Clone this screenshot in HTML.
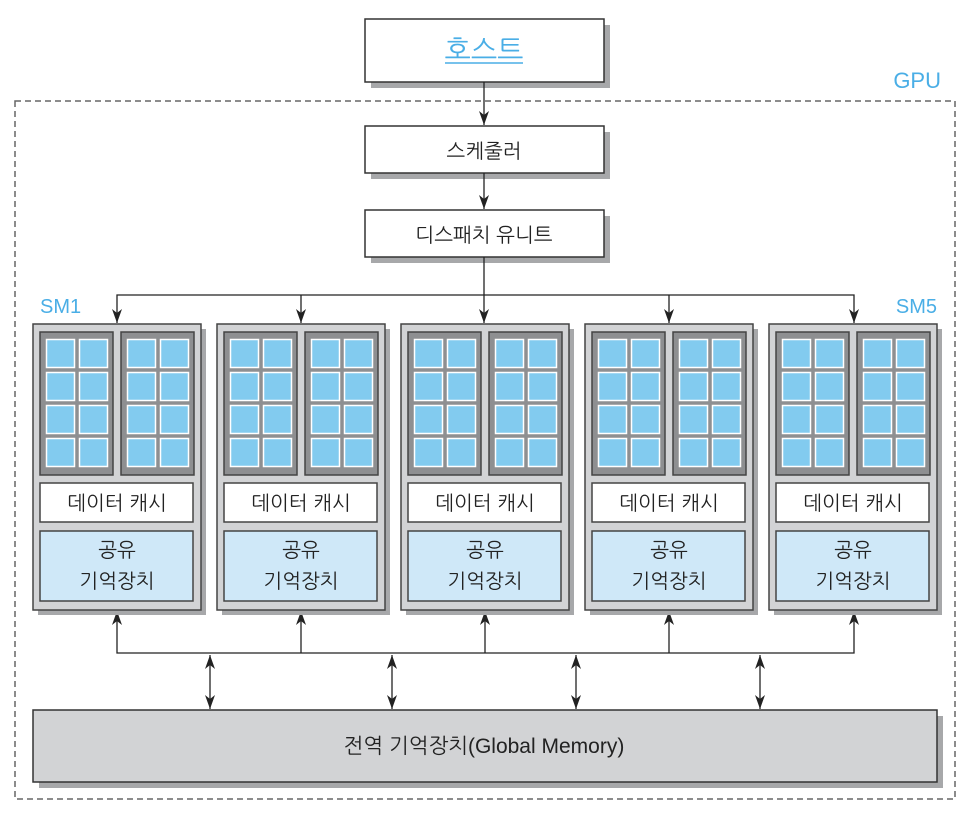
<!DOCTYPE html>
<html><head><meta charset="utf-8"><style>
html,body{margin:0;padding:0;background:#fff;width:980px;height:824px;overflow:hidden}
text{font-family:"Liberation Sans","NanumGothic","Noto Sans CJK KR",sans-serif}
</style></head><body>
<svg width="980" height="824" viewBox="0 0 980 824" xmlns="http://www.w3.org/2000/svg">
<defs>
<marker id="ah" viewBox="0 0 14 10" refX="14" refY="5" markerWidth="14" markerHeight="10" orient="auto-start-reverse" markerUnits="userSpaceOnUse">
<path d="M0,0 L14,5 L0,10 L4,5 z" fill="#222"/></marker>
<g id="blk">
<rect x="0" y="0" width="73" height="143" fill="#8e8f91" stroke="#444" stroke-width="1.5"/>
<g fill="#82cbef" stroke="#fff" stroke-width="1.5">
<rect x="6.5" y="7.5" width="28" height="28"/><rect x="39.5" y="7.5" width="28" height="28"/>
<rect x="6.5" y="40.5" width="28" height="28"/><rect x="39.5" y="40.5" width="28" height="28"/>
<rect x="6.5" y="73.5" width="28" height="28"/><rect x="39.5" y="73.5" width="28" height="28"/>
<rect x="6.5" y="106.5" width="28" height="28"/><rect x="39.5" y="106.5" width="28" height="28"/>
</g></g>
<g id="sm">
<rect x="5" y="5" width="168" height="286" fill="#a7a8aa"/>
<rect x="0" y="0" width="168" height="286" fill="#d2d3d5" stroke="#444" stroke-width="1.5"/>
<use href="#blk" x="7" y="8"/><use href="#blk" x="88" y="8"/>
<rect x="7" y="159" width="153" height="39" fill="#fff" stroke="#444" stroke-width="1.5"/>
<rect x="7" y="207" width="153" height="70" fill="#cfe8f8" stroke="#444" stroke-width="1.5"/>
</g>
</defs>

<rect x="15" y="101" width="940" height="698" fill="none" stroke="#666" stroke-width="1.5" stroke-dasharray="6,4"/>
<text x="941" y="88" font-size="22" fill="#4aaee6" text-anchor="end">GPU</text>

<rect x="371" y="25" width="239" height="63" fill="#a7a8aa"/>
<rect x="365" y="19" width="239" height="63" fill="#fff" stroke="#333" stroke-width="1.5"/>
<text x="484" y="60" font-size="28" fill="#4aaee6" text-anchor="middle">호스트</text>
<line x1="445" y1="63" x2="523" y2="63" stroke="#4aaee6" stroke-width="1.5"/>

<rect x="371" y="132" width="239" height="47" fill="#a7a8aa"/>
<rect x="365" y="126" width="239" height="47" fill="#fff" stroke="#333" stroke-width="1.5"/>
<text x="484" y="158" font-size="20" fill="#222" text-anchor="middle">스케줄러</text>

<rect x="371" y="216" width="239" height="47" fill="#a7a8aa"/>
<rect x="365" y="210" width="239" height="47" fill="#fff" stroke="#333" stroke-width="1.5"/>
<text x="484" y="242" font-size="20" fill="#222" text-anchor="middle">디스패치 유니트</text>

<g stroke="#222" stroke-width="1.3" fill="none">
<line x1="484" y1="82" x2="484" y2="125" marker-end="url(#ah)"/>
<line x1="484" y1="173" x2="484" y2="209" marker-end="url(#ah)"/>
<line x1="484" y1="257" x2="484" y2="323" marker-end="url(#ah)"/>
<polyline points="117,323 117,295 854,295 854,323" marker-start="url(#ah)" marker-end="url(#ah)"/>
<line x1="301" y1="295" x2="301" y2="323" marker-end="url(#ah)"/>
<line x1="669" y1="295" x2="669" y2="323" marker-end="url(#ah)"/>
<polyline points="117,611 117,653 854,653 854,611" marker-start="url(#ah)" marker-end="url(#ah)"/>
<line x1="301" y1="653" x2="301" y2="611" marker-end="url(#ah)"/>
<line x1="485" y1="653" x2="485" y2="611" marker-end="url(#ah)"/>
<line x1="669" y1="653" x2="669" y2="611" marker-end="url(#ah)"/>
<line x1="210" y1="655" x2="210" y2="709" marker-start="url(#ah)" marker-end="url(#ah)"/>
<line x1="392" y1="655" x2="392" y2="709" marker-start="url(#ah)" marker-end="url(#ah)"/>
<line x1="576" y1="655" x2="576" y2="709" marker-start="url(#ah)" marker-end="url(#ah)"/>
<line x1="760" y1="655" x2="760" y2="709" marker-start="url(#ah)" marker-end="url(#ah)"/>
</g>

<text x="40" y="313" font-size="20" fill="#4aaee6">SM1</text>
<text x="937" y="313" font-size="20" fill="#4aaee6" text-anchor="end">SM5</text>

<use href="#sm" x="33" y="324"/>
<use href="#sm" x="217" y="324"/>
<use href="#sm" x="401" y="324"/>
<use href="#sm" x="585" y="324"/>
<use href="#sm" x="769" y="324"/>

<g font-size="20" fill="#222" text-anchor="middle">
<text x="117" y="510">데이터 캐시</text><text x="117" y="557">공유</text><text x="117" y="588">기억장치</text>
<text x="301" y="510">데이터 캐시</text><text x="301" y="557">공유</text><text x="301" y="588">기억장치</text>
<text x="485" y="510">데이터 캐시</text><text x="485" y="557">공유</text><text x="485" y="588">기억장치</text>
<text x="669" y="510">데이터 캐시</text><text x="669" y="557">공유</text><text x="669" y="588">기억장치</text>
<text x="853" y="510">데이터 캐시</text><text x="853" y="557">공유</text><text x="853" y="588">기억장치</text>
</g>

<rect x="39" y="716" width="904" height="72" fill="#a7a8aa"/>
<rect x="33" y="710" width="904" height="72" fill="#d2d3d5" stroke="#333" stroke-width="1.5"/>
<text x="484" y="753" font-size="21" fill="#222" text-anchor="middle">전역 기억장치(Global Memory)</text>
</svg>
</body></html>
